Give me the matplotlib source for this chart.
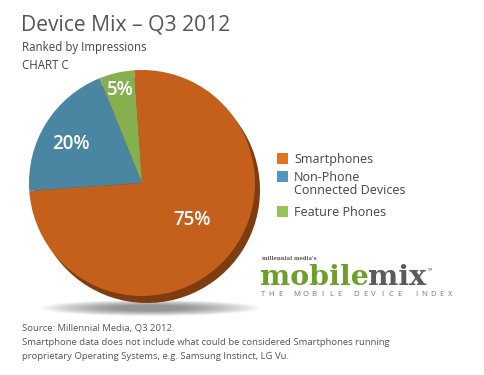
import matplotlib
matplotlib.use("Agg")
import matplotlib.pyplot as plt
from matplotlib.patches import Ellipse, Rectangle

# data
categories = ["Smartphones", "Non-Phone\nConnected Devices", "Feature Phones"]
shares = [75, 20, 5]
pct_labels = ["75%", "20%", "5%"]

PIE_COLORS = ["#C4601C", "#4A86A2", "#86B050"]
LEG_COLORS = ["#E2731F", "#4F97BE", "#97C45A"]
DEPTH = "#7E3C10"
TXT = "#444444"
FONT = ["Open Sans", "DejaVu Sans"]

W, H = 485, 375
fig = plt.figure(figsize=(W / 100, H / 100), dpi=100)
fig.patch.set_facecolor("white")

# background axes (pixel coords, y down) for the ground shadow
bg = fig.add_axes([0, 0, 1, 1], zorder=0)
bg.set_xlim(0, W); bg.set_ylim(H, 0); bg.axis("off")
for i in range(14):
    bg.add_patch(Ellipse((150, 308), 220 - i * 11, 16 - i * 0.8, color="black",
                         alpha=0.035, lw=0))

# pie
cx, cy, R = 142, 183, 113
half = 135
pa = fig.add_axes([(cx - half) / W, (H - cy - half) / H, 2 * half / W, 2 * half / H], zorder=1)
pa.patch.set_alpha(0)
pa.pie(shares, radius=R, center=(5, -7), startangle=94, counterclock=False,
       colors=[DEPTH] * 3, wedgeprops=dict(lw=0))
pa.pie(shares, radius=R, startangle=94, counterclock=False,
       colors=PIE_COLORS, wedgeprops=dict(lw=0))
pa.set_xlim(-half, half); pa.set_ylim(-half, half); pa.set_aspect("equal"); pa.axis("off")

# foreground text axes
ov = fig.add_axes([0, 0, 1, 1], zorder=2)
ov.set_xlim(0, W); ov.set_ylim(H, 0); ov.axis("off"); ov.patch.set_alpha(0)

ov.text(21, 30, "Device Mix \u2013 Q3 2012", fontsize=15.2, color="#555555", family=FONT,
        va="baseline", ha="left")
ov.text(22, 51, "Ranked by Impressions", fontsize=8.3, color=TXT, family=FONT, va="baseline")
ov.text(22, 69, "CHART C", fontsize=8.3, color=TXT, family=FONT, va="baseline")

label_pos = [(192, 220), (71, 144), (120, 90)]
for (lx, ly), t in zip(label_pos, pct_labels):
    ov.text(lx, ly, t, color="white", fontsize=13.5, family=FONT, weight="semibold",
            ha="center", va="center")

# legend
leg_y = [159, 177, 212]
for y, c, lab in zip(leg_y, LEG_COLORS, categories):
    ov.add_patch(Rectangle((277, y - 6), 11, 11, color=c, lw=0))
    ov.text(294, y - 6, lab, fontsize=9, color=TXT, family=FONT, va="top", ha="left",
            linespacing=1.05)

# mobilemix logo
ov.text(262, 260, "millennial media's", fontsize=3.8, color="#555555", weight="bold",
        family="DejaVu Serif", va="baseline")
fig.canvas.draw()
rend = fig.canvas.get_renderer()
t1 = ov.text(260, 285, "mobile", fontsize=20.5, color="#6D9F2C", weight="bold",
             family="DejaVu Serif", va="baseline")
bb = t1.get_window_extent(rend)
t2 = ov.text(bb.x1 - 1, 285, "mix", fontsize=20.5, color="#5A5B5D", weight="bold",
             family="DejaVu Serif", va="baseline")
bb2 = t2.get_window_extent(rend)
ov.text(bb2.x1 + 1, 271, "TM", fontsize=2.5, color="#5A5B5D", va="baseline")
tag = "THE MOBILE DEVICE INDEX"
step = (450 - 263) / (len(tag) - 1)
for i, ch in enumerate(tag):
    ov.text(263 + i * step, 296, ch, fontsize=5.6, color="#777777", family=FONT,
            va="baseline", ha="center")

# footer
foot = ["Source: Millennial Media, Q3 2012.",
        "Smartphone data does not include what could be considered Smartphones running",
        "proprietary Operating Systems, e.g. Samsung Instinct, LG Vu."]
for y, s in zip([331, 345, 359], foot):
    ov.text(22, y, s, fontsize=6.8, color="#555555", family=FONT, va="baseline")

fig.savefig("out.png", dpi=100)
